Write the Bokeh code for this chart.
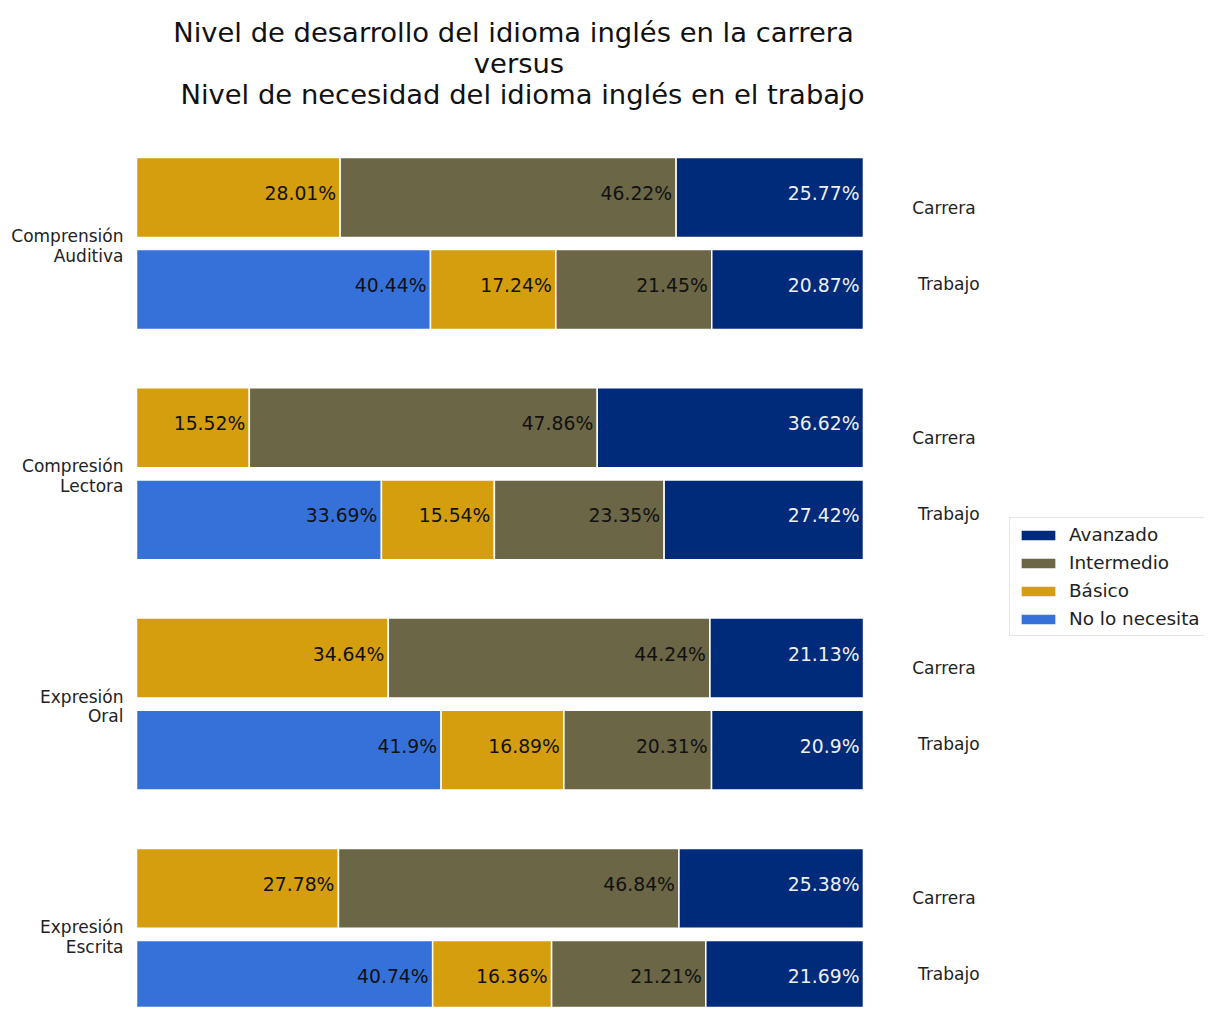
from bokeh.plotting import figure
from bokeh.models import Range1d, ColumnDataSource, Legend, LegendItem
from bokeh.core.properties import value
from bokeh.embed import file_html
from bokeh.resources import INLINE

# ---------------- data ----------------
skills = ["Comprensión\nAuditiva", "Compresión\nLectora", "Expresión\nOral", "Expresión\nEscrita"]
rows = ["Carrera", "Trabajo"]
levels = ["No lo necesita", "Básico", "Intermedio", "Avanzado"]
legend_order = ["Avanzado", "Intermedio", "Básico", "No lo necesita"]

carrera_no = [0, 0, 0, 0]
carrera_basico = [28.01, 15.52, 34.64, 27.78]
carrera_intermedio = [46.22, 47.86, 44.24, 46.84]
carrera_avanzado = [25.77, 36.62, 21.13, 25.38]

trabajo_no = [40.44, 33.69, 41.9, 40.74]
trabajo_basico = [17.24, 15.54, 16.89, 16.36]
trabajo_intermedio = [21.45, 23.35, 20.31, 21.21]
trabajo_avanzado = [20.87, 27.42, 20.9, 21.69]

title_lines = ["Nivel de desarrollo del idioma inglés en la carrera",
               "versus",
               "Nivel de necesidad del idioma inglés en el trabajo"]

colors = {
    "Avanzado": "#002a7a",
    "Intermedio": "#6a6646",
    "Básico": "#d49e0e",
    "No lo necesita": "#3671d9",
}
label_colors = {
    "Avanzado": "#f0f0f0",
    "Intermedio": "#111111",
    "Básico": "#111111",
    "No lo necesita": "#111111",
}

series = {
    "Carrera": [carrera_no, carrera_basico, carrera_intermedio, carrera_avanzado],
    "Trabajo": [trabajo_no, trabajo_basico, trabajo_intermedio, trabajo_avanzado],
}
row_offset = {"Carrera": -0.2, "Trabajo": 0.2}
BAR_H = 0.347
FONT = value("DejaVu Sans")

p = figure(width=1204, height=1007, output_backend="svg", toolbar_location=None,
           x_range=Range1d(-18.707, 146.91), y_range=Range1d(3.3174, -1.0551),
           min_border=0, min_border_left=0, min_border_right=0,
           min_border_top=0, min_border_bottom=0)
p.axis.visible = False
p.grid.visible = False
p.outline_line_color = None
p.background_fill_color = "white"

renderers = {}
lab_x, lab_y, lab_t, lab_c = [], [], [], []
for li, lev in enumerate(levels):
    lefts, rights, ys = [], [], []
    for row in rows:
        vals = series[row]
        for si in range(len(skills)):
            v = vals[li][si]
            left = sum(vals[k][si] for k in range(li))
            if v <= 0:
                continue
            y = si + row_offset[row]
            lefts.append(left)
            rights.append(left + v)
            ys.append(y)
            lab_x.append(left + v)
            lab_y.append(y)
            lab_t.append(f"{v}%")
            lab_c.append(label_colors[lev])
    src = ColumnDataSource(dict(left=lefts, right=rights, y=ys))
    r = p.hbar(y="y", left="left", right="right", height=BAR_H, source=src,
               fill_color=colors[lev], line_color="white", line_width=1.5)
    renderers[lev] = r

lab_src = ColumnDataSource(dict(x=lab_x, y=lab_y, text=lab_t, color=lab_c))
p.text(x="x", y="y", text="text", source=lab_src, text_color="color",
       text_align="right", text_baseline="middle", x_offset=-4, y_offset=-4,
       text_font=FONT, text_font_size="18.8px")

# category labels (left)
cat_src = ColumnDataSource(dict(x=[-1.79] * len(skills),
                                y=[i + 0.01 for i in range(len(skills))],
                                text=skills))
p.text(x="x", y="y", text="text", source=cat_src, text_align="right",
       text_baseline="middle", text_font=FONT, text_font_size="17px",
       text_color="#222222", text_line_height=0.985)

# row labels (right)
rx, ry, rt = [], [], []
for si in range(len(skills)):
    rx += [106.7, 107.5]
    ry += [si - 0.156, si + 0.174]
    rt += rows
row_src = ColumnDataSource(dict(x=rx, y=ry, text=rt))
p.text(x="x", y="y", text="text", source=row_src, text_align="left",
       text_baseline="middle", text_font=FONT, text_font_size="17px",
       text_color="#222222")

# title (three centred lines)
title_src = ColumnDataSource(dict(x=[51.86, 52.61, 53.09],
                                  y=[-0.9162, -0.7816, -0.647],
                                  text=title_lines))
p.text(x="x", y="y", text="text", source=title_src, text_align="center",
       text_baseline="middle", text_font=FONT, text_font_size="27.4px",
       text_color="#111111")

legend = Legend(items=[LegendItem(label=lev, renderers=[renderers[lev]]) for lev in legend_order],
                location=(1009, 371), margin=0, padding=6, spacing=7,
                glyph_width=44, glyph_height=14, label_standoff=9,
                label_text_font="DejaVu Sans", label_text_font_size="18.4px",
                label_text_color="#222222", label_height=20,
                border_line_color="#cccccc", border_line_width=1,
                background_fill_color="white", background_fill_alpha=0.9)
p.add_layout(legend)

open("out.html", "w").write(file_html(p, INLINE))
